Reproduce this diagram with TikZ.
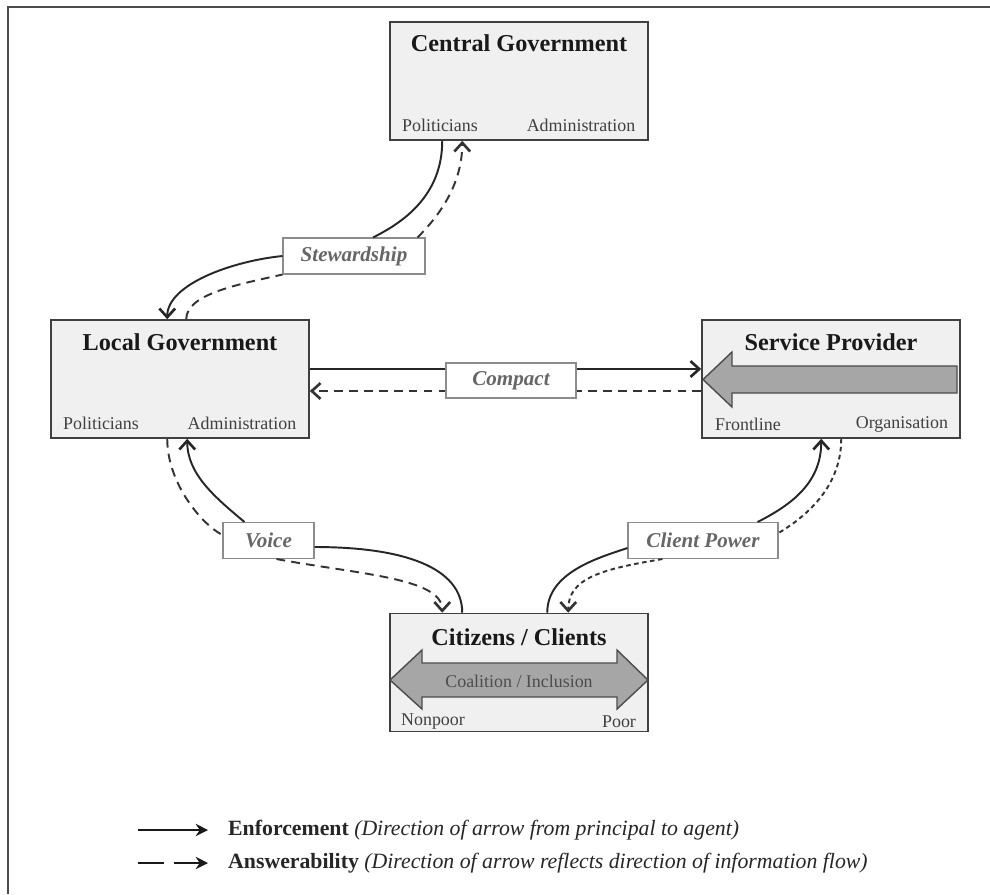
\documentclass[tikz,border=0pt]{standalone}
\usepackage{fontspec}
\setmainfont{Liberation Serif}
\usetikzlibrary{arrows.meta,calc}

\tikzset{
  actor/.style={draw=black!75, line width=0.9pt, fill=black!6, minimum width=5.16cm, minimum height=2.36cm, inner sep=0pt},
  actortitle/.style={font=\fontsize{13.8}{16}\selectfont\bfseries, text=black!90},
  actorpart/.style={font=\fontsize{10.2}{12}\selectfont, text=black!75},
  relation/.style={draw=black!45, line width=0.6pt, fill=white, font=\fontsize{12}{14}\selectfont\bfseries\itshape, text=black!60, minimum height=0.72cm, inner sep=0pt},
  enforceline/.style={line width=1.1pt, draw=black!85},
  enforce/.style={enforceline, -{Straight Barb[length=5pt,width=9pt,line width=1.5pt]}},
  answerline/.style={line width=1.1pt, draw=black!80, dash pattern=on 5pt off 3.5pt},
  answer/.style={answerline, -{Straight Barb[length=5pt,width=9pt,line width=1.5pt]}},
  shortline/.style={line width=1.1pt, draw=black!80, dash pattern=on 2.6pt off 2pt},
  short/.style={shortline, -{Straight Barb[length=5pt,width=9pt,line width=1.5pt]}},
  bigarrow/.style={draw=black!70, line width=0.8pt, fill=black!35},
  legendarrow/.style={line width=1.3pt, draw=black!90, -{Stealth[length=7pt,width=7pt]}},
  legendtext/.style={font=\fontsize{12.4}{14}\selectfont, text=black!85}
}

\begin{document}
\begin{tikzpicture}[x=0.02cm, y=-0.02cm]
    \useasboundingbox (0,0) rectangle (990,894);
    % frame
    \draw[black!70, line width=1.1pt] (8,894) -- (8,7) -- (990,7);

    % actors
    \node[actor] (cg) at (519,81) {};
    \node[actortitle] (cgtitle) at (519,43) {Central Government};
    \node[actorpart] (cgpol) at (440,125) {Politicians};
    \node[actorpart] (cgadm) at (581,125) {Administration};

    \node[actor] (lg) at (180,379) {};
    \node[actortitle] (lgtitle) at (180,342) {Local Government};
    \node[actorpart] (lgpol) at (101,423) {Politicians};
    \node[actorpart] (lgadm) at (242,423) {Administration};

    \node[actor] (sp) at (831,379) {};
    \node[actortitle] (sptitle) at (831,342) {Service Provider};
    \filldraw[bigarrow] (957,366) -- (732,366) -- (732,352) -- (703,379.5) -- (732,407) -- (732,393) -- (957,393) -- cycle;
    \node[actorpart] (spfront) at (748,424) {Frontline};
    \node[actorpart] (sporg) at (902,424) {Organisation};

    \node[actor] (cc) at (519,672.5) {};
    \node[actortitle] (cctitle) at (519,637) {Citizens / Clients};
    \filldraw[bigarrow] (390,680) -- (422,650) -- (422,663) -- (617,663) -- (617,650) -- (648,680)
        -- (617,709) -- (617,697) -- (422,697) -- (422,709) -- cycle;
    \node[actorpart, text=black!70] (ccmid) at (519,681) {Coalition / Inclusion};
    \node[actorpart] (ccnon) at (433,722) {Nonpoor};
    \node[actorpart] (ccpoor) at (619,722) {Poor};

    % relation labels
    \node[relation, minimum width=2.84cm] (stew) at (354,256) {Stewardship};
    \node[relation, minimum width=1.82cm] (voice) at (268.5,540.5) {Voice};
    \node[relation, minimum width=3.0cm] (client) at (703,540.5) {Client Power};

    % stewardship
    \draw[enforceline] ($(cg.south west)+(53,0)$) .. controls +(0,55) and +(30,-15) .. ($(stew.north)+(19,0)$);
    \draw[enforce] (stew.west) .. controls +(-50,5) and +(0,-35) .. ($(lg.north west)+(117,0)$);
    \draw[answerline] ($(lg.north west)+(136,0)$) .. controls +(0,-25) and +(-45,10) .. (stew.south west);
    \draw[answer] ($(stew.north east)+(-8,0)$) .. controls +(20,-20) and +(0,45) .. ($(cg.south west)+(73,0)$);

    % compact
    \draw[enforce] ($(lg.east)+(0,-10)$) -- ($(sp.west)+(0,-10)$);
    \draw[answer] ($(sp.west)+(0,12)$) -- ($(lg.east)+(0,12)$);
    \node[relation, minimum width=2.6cm, minimum height=0.7cm] (compact) at (511,380.5) {Compact};

    % voice
    \draw[enforce] ($(voice.north west)+(22,0)$) .. controls +(-30,-25) and +(0,35) .. ($(lg.south west)+(137,0)$);
    \draw[enforceline] ($(voice.east)+(0,6.5)$) .. controls +(90,0) and +(0,-45) .. ($(cc.north west)+(73,0)$);
    \draw[answerline] ($(lg.south west)+(117,0)$) .. controls +(0,45) and +(-20,-10) .. ($(voice.west)+(0,-5.5)$);
    \draw[answer] ($(voice.south)+(8,0)$) .. controls +(80,15) and +(0,-35) .. ($(cc.north west)+(53,0)$);

    % client power
    \draw[enforceline] ($(cc.north west)+(158,0)$) .. controls +(0,-40) and +(-30,10) .. ($(client.west)+(0,7.5)$);
    \draw[enforce] ($(client.north east)+(-21,0)$) .. controls +(40,-20) and +(0,40) .. ($(sp.south west)+(120,0)$);
    \draw[shortline] ($(sp.south west)+(140,0)$) .. controls +(0,50) and +(25,-15) .. ($(client.east)+(0,-7.5)$);
    \draw[short] ($(client.south west)+(35,0)$) .. controls +(-60,10) and +(0,-35) .. ($(cc.north west)+(179,0)$);

    % legend
    \coordinate (enfA) at (138,830);
    \coordinate (enfB) at (208,830);
    \draw[legendarrow] (enfA) -- (enfB);
    \node[legendtext, anchor=west] (enftext) at (222,830) {\textbf{Enforcement} \textit{(Direction of arrow from principal to agent)}};
    \coordinate (ansA) at (138,863);
    \coordinate (ansB) at (208,863);
    \draw[legendarrow, dash pattern=on 15pt off 5.5pt] (ansA) -- (ansB);
    \node[legendtext, anchor=west] (anstext) at (222,863) {\textbf{Answerability} \textit{(Direction of arrow reflects direction of information flow)}};
\end{tikzpicture}
\end{document}
